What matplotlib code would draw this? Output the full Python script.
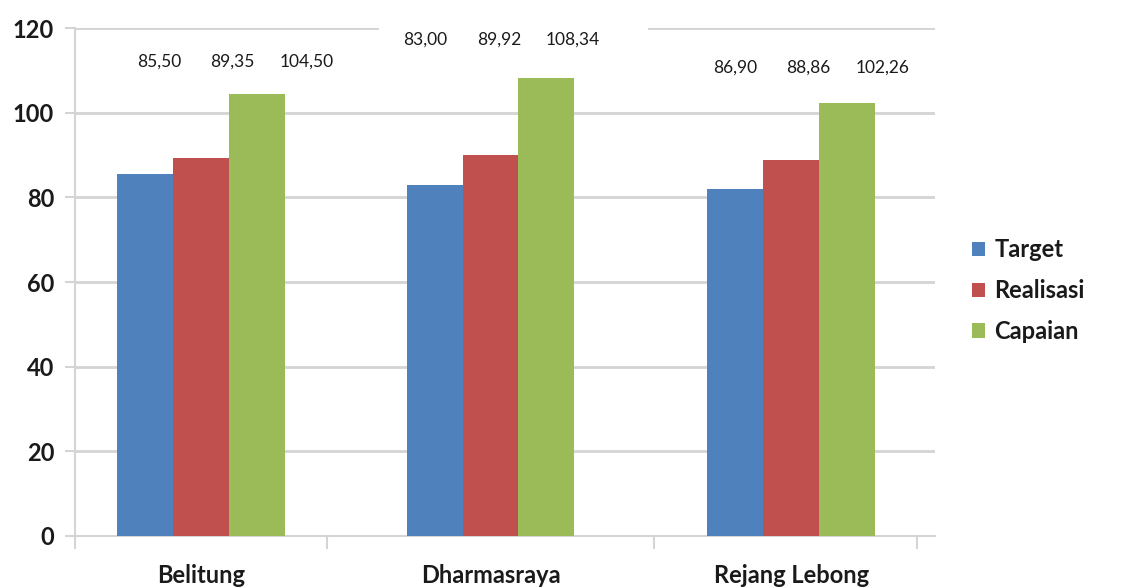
import numpy as np
import matplotlib
matplotlib.use("Agg")
import matplotlib.pyplot as plt
from matplotlib.patches import Rectangle

# data
regions = ["Belitung", "Dharmasraya", "Rejang Lebong"]
series = ["Target", "Realisasi", "Capaian"]
target = [85.5, 83.0, 82.0]
realisasi = [89.35, 89.92, 88.86]
capaian = [104.5, 108.34, 102.26]
target_lbl = ["85,50", "83,00", "86,90"]
realisasi_lbl = ["89,35", "89,92", "88,86"]
capaian_lbl = ["104,50", "108,34", "102,26"]

colors = ["#4F81BD", "#C0504D", "#9BBB59"]
grid_col = "#d4d4d4"
txt_col = "#1a1a1a"

plt.rcParams['font.family'] = ['Lato', 'DejaVu Sans']

fig = plt.figure(figsize=(11.25, 5.87), dpi=100)
ax = fig.add_axes([0.0667, 0.087, 0.764, 0.865])

x = np.arange(len(regions)) + 0.5
x[0] -= 0.06
x[1] -= 0.05
w = 0.195

vals = [target, realisasi, capaian]
lbls = [target_lbl, realisasi_lbl, capaian_lbl]
for i, (v, c, name) in enumerate(zip(vals, colors, series)):
    ax.bar(x + (i - 1) * w, v, w, color=c, label=name, zorder=3)

# value labels above each group (placed as in the original text boxes)
lbl_y = [112, 117.2, 110.6]
lbl_shift = [0.11, 0.03, 0.06]
for g in range(len(regions)):
    for i in range(3):
        ax.text(x[g] + (i - 1) * 0.257 + lbl_shift[g], lbl_y[g], lbls[i][g],
                ha="center", va="center", fontsize=12.5, color=txt_col, zorder=5)

# white text box hiding part of top gridline
ax.add_patch(Rectangle((1.06, 115.5), 0.94, 6, facecolor="white", edgecolor="none",
                       zorder=4, clip_on=False))

ax.set_xlim(0, 3)
ax.set_ylim(0, 120)
ax.set_yticks(range(0, 121, 20))
ax.set_yticklabels([str(t) for t in range(0, 121, 20)], fontsize=17,
                   color=txt_col, fontweight="bold")
ax.yaxis.grid(True, color=grid_col, linewidth=2, zorder=0)
ax.tick_params(axis="y", length=7, width=1.5, color=grid_col, pad=8)

ax.set_xticks(x)
ax.set_xticklabels(regions, fontsize=17, color=txt_col, fontweight="bold")
ax.tick_params(axis="x", which="major", length=0, pad=20)
ax.set_xticks([0, 0.88, 2.02, 2.94], minor=True)
ax.tick_params(axis="x", which="minor", length=9, width=1.5, color=grid_col)

for s in ["top", "right"]:
    ax.spines[s].set_visible(False)
ax.spines["left"].set_color(grid_col)
ax.spines["left"].set_linewidth(1.5)
ax.spines["bottom"].set_color(grid_col)
ax.spines["bottom"].set_linewidth(1.5)
ax.set_axisbelow(True)

fig.legend(loc="center left", bbox_to_anchor=(0.845, 0.505), frameon=False,
           prop={"size": 17, "weight": "bold"}, handlelength=0.55,
           handleheight=0.55, handletextpad=0.4, labelspacing=0.75,
           labelcolor=txt_col)

fig.savefig("out.png", dpi=100)
